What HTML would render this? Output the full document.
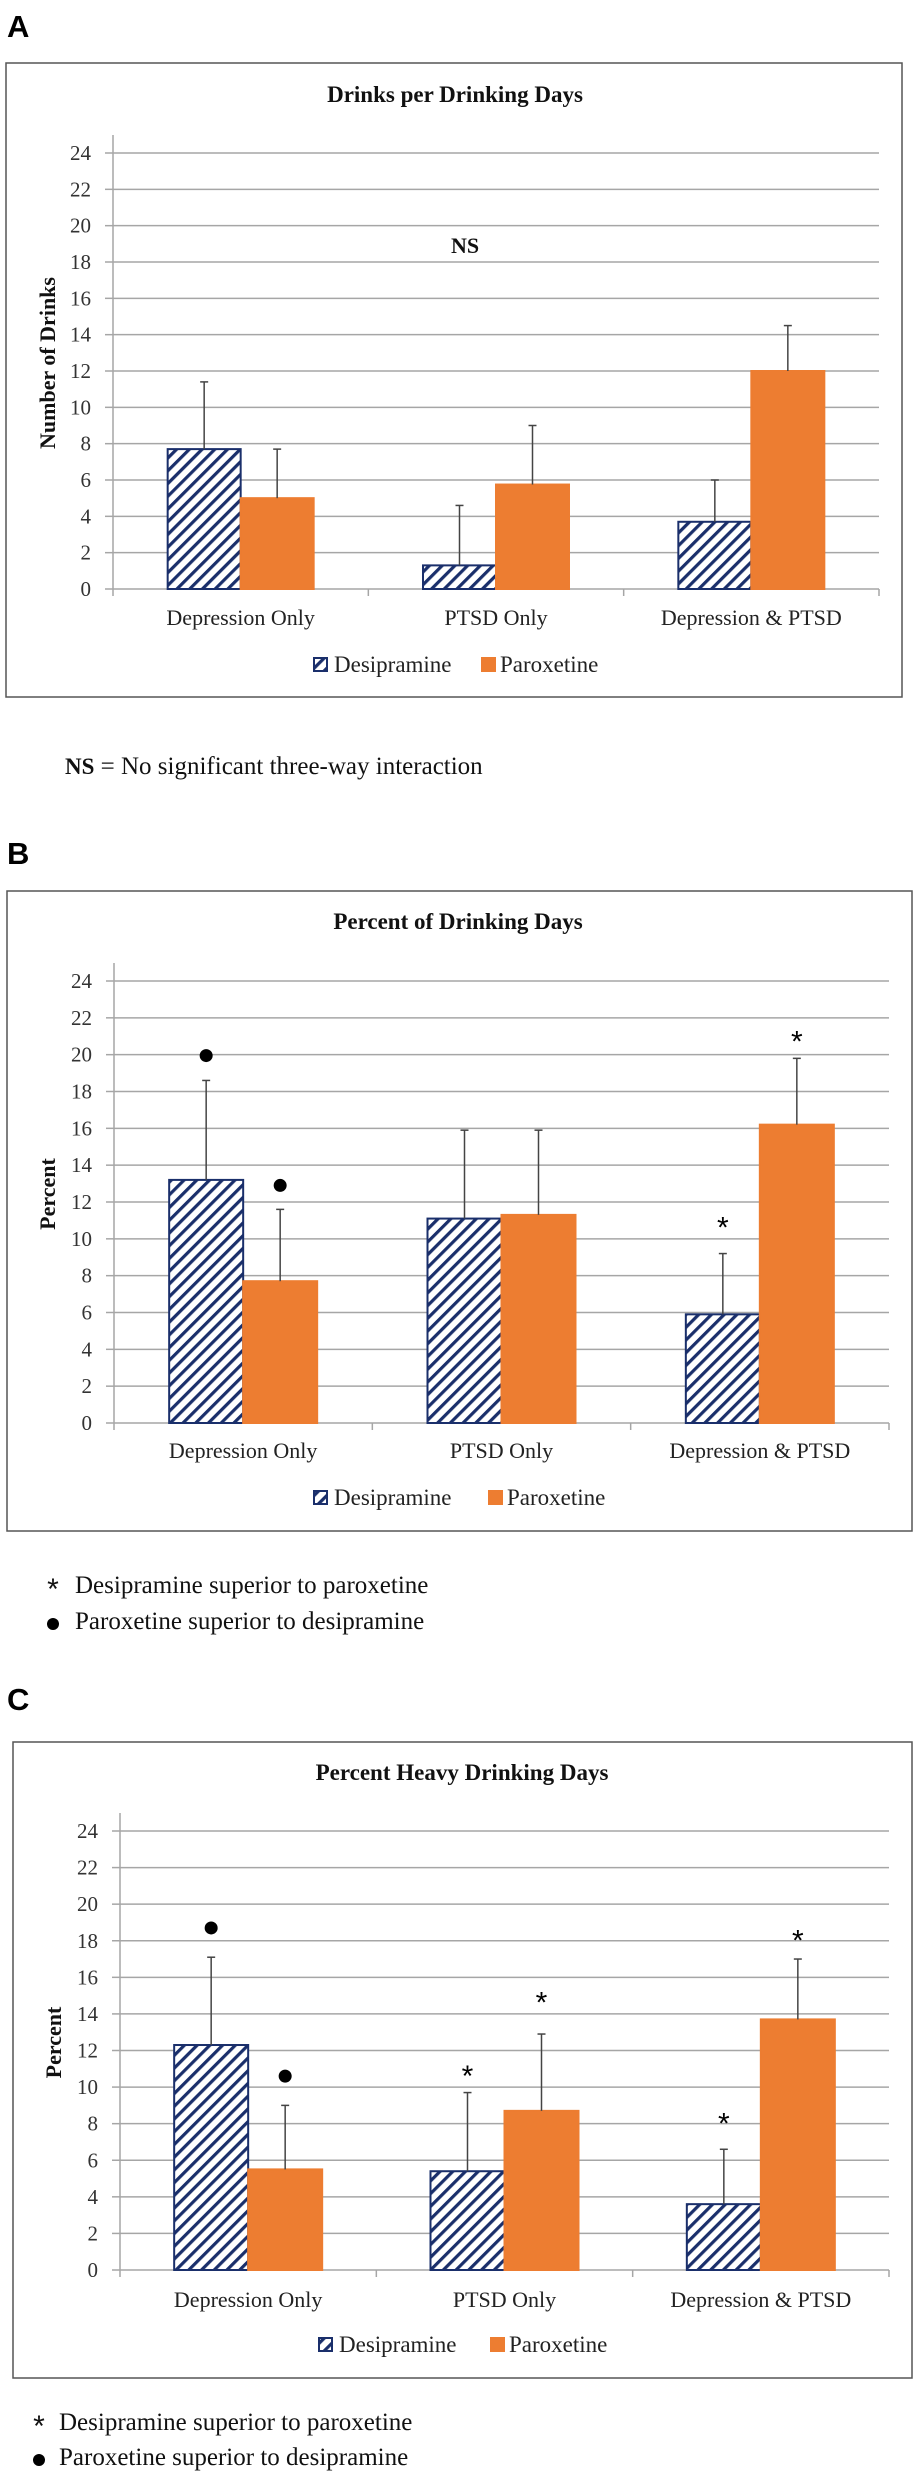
<!DOCTYPE html>
<html><head><meta charset="utf-8"><style>
html,body{margin:0;padding:0;background:#fff;}
svg{display:block;}
</style></head><body>
<svg id="fig" width="920" height="2480" viewBox="0 0 920 2480" xmlns="http://www.w3.org/2000/svg" font-family="'Liberation Serif', serif">
<defs>
<pattern id="hatch" patternUnits="userSpaceOnUse" width="9" height="9" patternTransform="rotate(45)">
<rect width="9" height="9" fill="#fff"/>
<rect x="0" y="0" width="3.2" height="9" fill="#1a2f6b"/>
</pattern>
</defs>
</svg>
<script>
const categories = ["Depression Only", "PTSD Only", "Depression & PTSD"];
const seriesNames = ["Desipramine", "Paroxetine"];
const yTicks = [0, 2, 4, 6, 8, 10, 12, 14, 16, 18, 20, 22, 24];

const aDesip = [7.7, 1.3, 3.7];
const aDesipErr = [11.4, 4.6, 6.0];
const aParox = [5.0, 5.75, 12.0];
const aParoxErr = [7.7, 9.0, 14.5];

const bDesip = [13.2, 11.1, 5.9];
const bDesipErr = [18.6, 15.9, 9.2];
const bParox = [7.7, 11.3, 16.2];
const bParoxErr = [11.6, 15.9, 19.8];
const bDesipMarks = ["dot", null, "star"];
const bDesipMarkVals = [19.95, null, 11.0];
const bParoxMarks = ["dot", null, "star"];
const bParoxMarkVals = [12.9, null, 21.1];

const cDesip = [12.3, 5.4, 3.6];
const cDesipErr = [17.1, 9.7, 6.6];
const cParox = [5.5, 8.7, 13.7];
const cParoxErr = [9.0, 12.9, 17.0];
const cDesipMarks = ["dot", "star", "star"];
const cDesipMarkVals = [18.7, 11.0, 8.4];
const cParoxMarks = ["dot", "star", "star"];
const cParoxMarkVals = [10.6, 15.0, 18.4];

const NS = "http://www.w3.org/2000/svg";
const SANS = "'Liberation Sans', sans-serif";
const svg = document.getElementById('fig');
function mk(tag, attrs, parent) {
  const e = document.createElementNS(NS, tag);
  for (const k in attrs) e.setAttribute(k, attrs[k]);
  (parent || svg).appendChild(e);
  return e;
}
function txt(s, attrs, parent) { const t = mk('text', attrs, parent); t.textContent = s; return t; }

function drawPanel(cfg) {
  const g = mk('g', {});
  
  
  const lab = txt(cfg.letter, {x: 7, y: cfg.letterY, 'font-family': SANS, 'font-weight': 'bold', 'font-size': 31, fill: '#000'}, g);
  
  
  const box = mk('rect', {x: cfg.box[0], y: cfg.box[1], width: cfg.box[2] - cfg.box[0], height: cfg.box[3] - cfg.box[1], fill: 'none', stroke: '#555', 'stroke-width': 1.5}, g);
  
  
  const title = txt(cfg.title, {x: cfg.titleX, y: cfg.titleY, 'font-weight': 'bold', 'font-size': 23, 'text-anchor': 'middle', fill: '#111'}, g);
  
  

  const x0 = cfg.x0, x1 = cfg.x1, y0 = cfg.y0, y24 = cfg.y24;
  const yS = v => y0 - (v / 24) * (y0 - y24);
  const gw = (x1 - x0) / categories.length;
  const xC = i => x0 + gw * (i + 0.5);
  const bw = cfg.bw;

  yTicks.forEach(t => {
    const y = yS(t);
    if (t > 0) {
      const gl = mk('line', {x1: x0, x2: x1, y1: y, y2: y, stroke: '#a6a6a6', 'stroke-width': 1.5}, g);
      
      
    }
    mk('line', {x1: x0 - 8, x2: x0, y1: y, y2: y, stroke: '#a6a6a6', 'stroke-width': 1.5}, g);
    const tl = txt(String(t), {x: x0 - 22, y: y + 7, 'font-size': 21, 'text-anchor': 'end', fill: '#333'}, g);
    
    
  });
  const ya = mk('line', {x1: x0, x2: x0, y1: y24 - 18, y2: y0 + 7, stroke: '#a6a6a6', 'stroke-width': 1.5}, g);
  
  
  const xa = mk('line', {x1: x0, x2: x1, y1: y0, y2: y0, stroke: '#a6a6a6', 'stroke-width': 1.5}, g);
  
  
  for (let i = 1; i <= categories.length; i++) {
    mk('line', {x1: x0 + gw * i, x2: x0 + gw * i, y1: y0, y2: y0 + 7, stroke: '#a6a6a6', 'stroke-width': 1.5}, g);
  }
  const yt = txt(cfg.yTitle, {x: 0, y: 0, 'font-weight': 'bold', 'font-size': 22, 'text-anchor': 'middle', fill: '#111', transform: `translate(${cfg.yTitleX},${(y0 + y24) / 2 - 8}) rotate(-90)`}, g);
  
  

  categories.forEach((c, i) => {
    const cl = txt(c, {x: xC(i), y: cfg.catY, 'font-size': 22, 'text-anchor': 'middle', fill: '#222'}, g);
    
    
  });

  const series = [
    {vals: cfg.d, err: cfg.de, marks: cfg.dm, markVals: cfg.dmv, fill: 'url(#hatch)', stroke: '#1a2f6b', off: -bw, name: 'desipramine'},
    {vals: cfg.p, err: cfg.pe, marks: cfg.pm, markVals: cfg.pmv, fill: '#ED7D31', stroke: '#ED7D31', off: 0, name: 'paroxetine'}
  ];
  series.forEach(s => {
    s.vals.forEach((v, i) => {
      const bx = xC(i) + s.off;
      const r = mk('rect', {x: bx, y: yS(v), width: bw, height: y0 - yS(v), fill: s.fill, stroke: s.stroke, 'stroke-width': 2}, g);
      
      
      const cx = bx + bw / 2;
      const e1 = mk('line', {x1: cx, x2: cx, y1: yS(v), y2: yS(s.err[i]), stroke: '#444', 'stroke-width': 1.5}, g);
      
      
      mk('line', {x1: cx - 4, x2: cx + 4, y1: yS(s.err[i]), y2: yS(s.err[i]), stroke: '#444', 'stroke-width': 1.5}, g);
      if (s.marks && s.marks[i]) {
        const my = yS(s.markVals[i]);
        if (s.marks[i] === 'dot') {
          const d = mk('circle', {cx: cx, cy: my, r: 6.5, fill: '#000'}, g);
          
          
        } else {
          const st = txt('*', {x: cx, y: my + 17, 'font-family': SANS, 'font-size': 30, 'text-anchor': 'middle', fill: '#000'}, g);
          
          
        }
      }
    });
  });

  const lg = mk('g', {}, g);
  
  
  const l1 = mk('rect', {x: cfg.leg[0], y: cfg.legY - 14, width: 13, height: 13, fill: 'url(#hatch)', stroke: '#1a2f6b', 'stroke-width': 2}, lg);
  
  
  const lt1 = txt(seriesNames[0], {x: cfg.leg[0] + 20, y: cfg.legY, 'font-size': 23, fill: '#222'}, lg);
  
  
  const l2 = mk('rect', {x: cfg.leg[1], y: cfg.legY - 15, width: 15, height: 15, fill: '#ED7D31'}, lg);
  
  
  const lt2 = txt(seriesNames[1], {x: cfg.leg[1] + 19, y: cfg.legY, 'font-size': 23, fill: '#222'}, lg);
  
  
  return {g, yS, xC};
}

const A = drawPanel({id: 'a', letter: 'A', letterY: 37, box: [6, 63, 902, 697], title: 'Drinks per Drinking Days', titleX: 455, titleY: 102,
  x0: 113, x1: 879, y0: 589, y24: 153, bw: 73, yTitle: 'Number of Drinks', yTitleX: 55, catY: 625, legY: 672, leg: [314, 481],
  d: aDesip, de: aDesipErr, p: aParox, pe: aParoxErr});
const ns = txt('NS', {x: 465, y: 253, 'font-weight': 'bold', 'font-size': 22, 'text-anchor': 'middle', fill: '#111'}, A.g);



drawPanel({id: 'b', letter: 'B', letterY: 864, box: [7, 891, 912, 1531], title: 'Percent of Drinking Days', titleX: 458, titleY: 929,
  x0: 114, x1: 889, y0: 1423, y24: 981, bw: 74, yTitle: 'Percent', yTitleX: 55, catY: 1458, legY: 1505, leg: [314, 488],
  d: bDesip, de: bDesipErr, p: bParox, pe: bParoxErr, dm: bDesipMarks, dmv: bDesipMarkVals, pm: bParoxMarks, pmv: bParoxMarkVals});

drawPanel({id: 'c', letter: 'C', letterY: 1710, box: [13, 1742, 912, 2378], title: 'Percent Heavy Drinking Days', titleX: 462, titleY: 1780,
  x0: 120, x1: 889, y0: 2270, y24: 1831, bw: 74, yTitle: 'Percent', yTitleX: 61, catY: 2307, legY: 2352, leg: [319, 490],
  d: cDesip, de: cDesipErr, p: cParox, pe: cParoxErr, dm: cDesipMarks, dmv: cDesipMarkVals, pm: cParoxMarks, pmv: cParoxMarkVals});

const f1 = txt('', {x: 65, y: 774, 'font-size': 25, fill: '#111', 'xml:space': 'preserve'});


const f1a = mk('tspan', {'font-weight': 'bold', 'font-size': 23}, f1); f1a.textContent = 'NS';
const f1b = mk('tspan', {}, f1); f1b.textContent = ' = No significant  three-way  interaction';

function footnotes(ax, tx, y1, y2, id) {
  const s = txt('*', {x: ax, y: y1 + 6, 'font-family': SANS, 'font-size': 30, 'text-anchor': 'middle', fill: '#111'});
  
  
  const t1 = txt('Desipramine  superior  to paroxetine', {x: tx, y: y1, 'font-size': 25, fill: '#111', 'xml:space': 'preserve'});
  
  
  const d = mk('circle', {cx: ax, cy: y2 - 5, r: 6, fill: '#000'});
  
  
  const t2 = txt('Paroxetine  superior  to desipramine', {x: tx, y: y2, 'font-size': 25, fill: '#111', 'xml:space': 'preserve'});
  
  
}
footnotes(53, 75, 1593, 1629, 'b');
footnotes(39, 59, 2430, 2465, 'c');
</script>
</body></html>
